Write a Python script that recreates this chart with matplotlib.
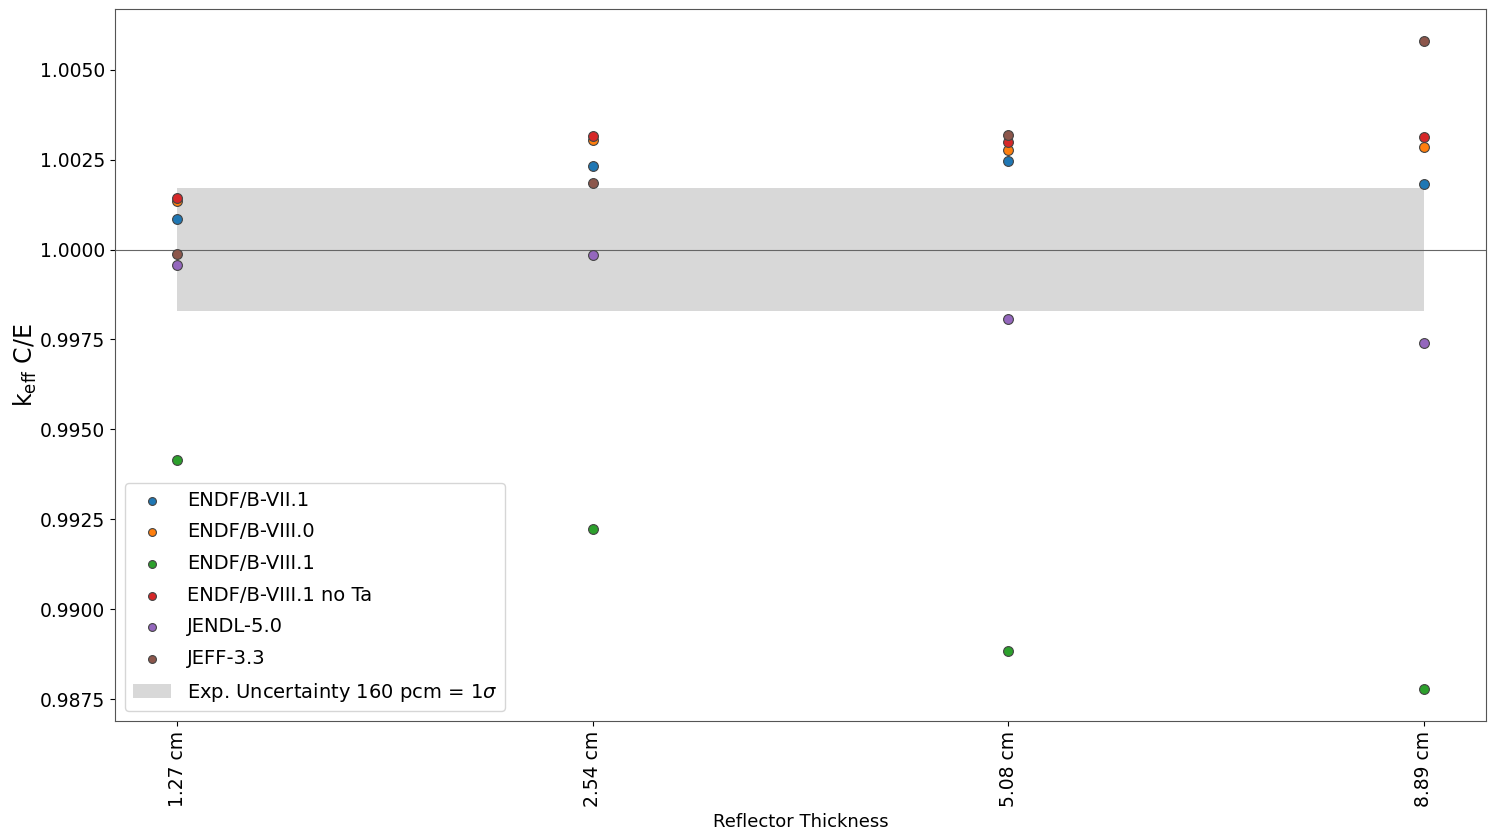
import matplotlib
matplotlib.use('Agg')
import matplotlib.pyplot as plt

thickness = ['1.27 cm', '2.54 cm', '5.08 cm', '8.89 cm']

libraries = ['ENDF/B-VII.1', 'ENDF/B-VIII.0', 'ENDF/B-VIII.1',
             'ENDF/B-VIII.1 no Ta', 'JENDL-5.0', 'JEFF-3.3']

endf71 = [1.00085, 1.00233, 1.00245, 1.00183]
endf80 = [1.00136, 1.00306, 1.00276, 1.00284]
endf81 = [0.99415, 0.99222, 0.98883, 0.98779]
endf81_no_ta = [1.00144, 1.00315, 1.00300, 1.00313]
jendl50 = [0.99958, 0.99984, 0.99808, 0.99739]
jeff33 = [0.99989, 1.00185, 1.00320, 1.00579]

exp_unc = 0.0017

valores = [endf71, endf80, endf81, endf81_no_ta, jendl50, jeff33]
colores = ['#1f77b4', '#ff7f0e', '#2ca02c', '#d62728', '#9467bd', '#8c564b']

fig, ax = plt.subplots(figsize=(14.88, 8.35), dpi=100)
fig.subplots_adjust(left=0.0773, right=0.9987, top=0.9892, bottom=0.1365)

for nombre, vals, c in zip(libraries, valores, colores):
    ax.scatter(thickness, vals, s=50, color=c, edgecolors='#444444',
               linewidths=0.8, label=nombre, zorder=3)

ax.fill_between(thickness, [1 - exp_unc] * 4, [1 + exp_unc] * 4,
                color='#d8d8d8', lw=0,
                label=r'Exp. Uncertainty 160 pcm = 1$\sigma$', zorder=1)
ax.axhline(1.0, color='#666666', lw=0.8, zorder=2)

ax.set_ylabel(r'$\mathrm{k_{eff}}$ C/E', fontsize=17, labelpad=1)
ax.set_xlabel('Reflector Thickness', fontsize=13)
ax.tick_params(axis='y', labelsize=13.5)
ax.tick_params(axis='x', labelsize=13.5, labelrotation=90)
ax.yaxis.set_major_formatter(matplotlib.ticker.FormatStrFormatter('%.4f'))

for s in ax.spines.values():
    s.set_color('#555555')

ax.legend(loc='lower left', fontsize=14, markerscale=0.8, labelspacing=0.65)

plt.savefig('out.png')
